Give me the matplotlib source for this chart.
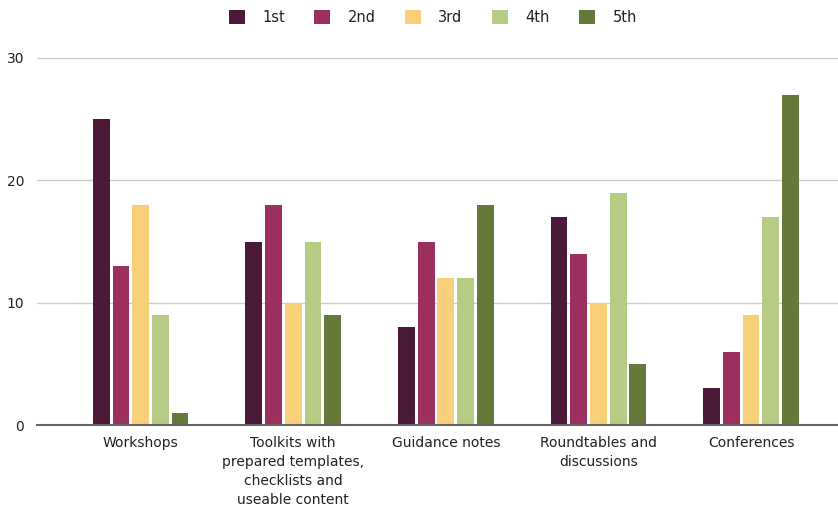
import matplotlib.pyplot as plt
import numpy as np

categories = ['Workshops', 'Toolkits with\nprepared templates,\nchecklists and\nuseable content',
              'Guidance notes', 'Roundtables and\ndiscussions', 'Conferences']
series = ['1st', '2nd', '3rd', '4th', '5th']
first = [25, 15, 8, 17, 3]
second = [13, 18, 15, 14, 6]
third = [18, 10, 12, 10, 9]
fourth = [9, 15, 12, 19, 17]
fifth = [1, 9, 18, 5, 27]
colors = ['#4a1a38', '#9b3060', '#f9d07a', '#b6cb84', '#65793b']

values = [first, second, third, fourth, fifth]

fig = plt.figure(figsize=(8.38, 5.08), dpi=100)
ax = fig.add_axes([0.044, 0.163, 0.956, 0.723])

x = np.arange(len(categories))
pitch = 0.129
width = 0.11
for i, (name, vals) in enumerate(zip(series, values)):
    ax.bar(x + (i - 2) * pitch, vals, width, label=name, color=colors[i], zorder=3)

ax.set_xlim(-0.68, 4.57)
ax.set_ylim(0, 30)
ax.set_yticks([0, 10, 20, 30])
ax.set_xticks(x)
ax.set_xticklabels(categories, fontsize=10, color='#222222', linespacing=1.45)
ax.tick_params(axis='y', labelsize=10, colors='#222222', length=0, pad=9)
ax.tick_params(axis='x', length=0, pad=8)
ax.grid(axis='y', color='#cccccc', linewidth=1, zorder=0)
for s in ['top', 'right', 'left']:
    ax.spines[s].set_visible(False)
ax.spines['bottom'].set_color('#666666')
ax.spines['bottom'].set_linewidth(1.5)
ax.spines['bottom'].set_zorder(4)

ax.legend(loc='center', bbox_to_anchor=(0.494, 1.109), ncol=5, frameon=False,
          fontsize=10.5, handlelength=1.1, handleheight=1.1, columnspacing=2.0,
          handletextpad=1.2, labelcolor='#222222')

fig.savefig('out.png', dpi=100)
